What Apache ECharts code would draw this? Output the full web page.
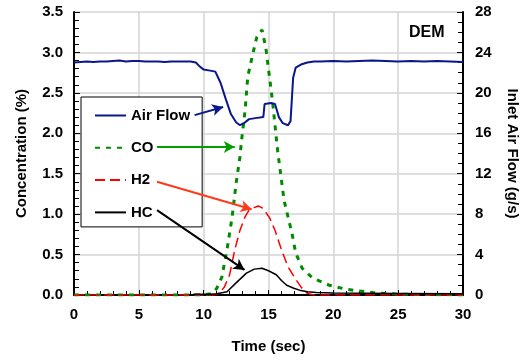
<!DOCTYPE html>
<html>
<head>
<meta charset="utf-8">
<script src="https://cdn.jsdelivr.net/npm/echarts@6/dist/echarts.min.js"></script>
<style>
  html, body { margin: 0; padding: 0; background: #fff; }
  #chart { width: 531px; height: 360px; }
</style>
</head>
<body>
<div id="chart"></div>
<script>
// time (sec) and values
const airTime = [0, 0.5, 1, 1.5, 2, 2.5, 3, 3.5, 4, 4.5, 5, 5.5, 6, 6.5, 7, 7.5, 8, 8.5, 9, 9.4, 9.7, 10.0, 10.5, 10.9, 11.3, 11.7, 12.1, 12.5, 12.8, 13.1, 13.5, 14.0, 14.6, 14.7, 15.2, 15.5, 15.8, 16.1, 16.5, 16.7, 16.9, 17.1, 17.5, 18, 18.5, 19, 20, 21, 22, 23, 24, 25, 26, 27, 28, 29, 30]
const airFlow = [23.0, 23.05, 23.1, 23.05, 23.1, 23.1, 23.15, 23.2, 23.1, 23.15, 23.15, 23.1, 23.1, 23.1, 23.05, 23.1, 23.1, 23.1, 23.1, 23.0, 22.6, 22.3, 22.2, 22.1, 21.0, 19.4, 17.9, 17.1, 16.8, 17.0, 17.4, 17.5, 17.6, 18.9, 19.0, 18.9, 17.6, 17.0, 16.8, 17.2, 21.5, 22.5, 22.8, 23.0, 23.1, 23.1, 23.15, 23.1, 23.15, 23.2, 23.15, 23.1, 23.15, 23.1, 23.15, 23.1, 23.05]

const coTime = [0, 10, 10.7, 11.0, 11.4, 11.8, 12.2, 12.5, 12.8, 12.9, 13.2, 13.4, 13.8, 14.1, 14.5, 14.8, 15.3, 15.7, 16.2, 16.8, 17.1, 17.6, 18.4, 19.7, 21, 23, 25, 30]
const coConc = [0, 0, 0.02, 0.08, 0.22, 0.56, 0.97, 1.38, 1.71, 1.88, 2.29, 2.70, 2.99, 3.19, 3.28, 3.05, 2.41, 1.79, 1.17, 0.77, 0.52, 0.33, 0.21, 0.12, 0.07, 0.03, 0.01, 0]

const h2Time = [0, 10.8, 11.2, 11.6, 12.0, 12.4, 12.8, 13.2, 13.5, 13.9, 14.2, 14.5, 14.8, 15.1, 15.5, 16.0, 16.5, 17.0, 17.5, 18, 18.5, 30]
const h2Conc = [0, 0, 0.02, 0.10, 0.25, 0.56, 0.80, 0.97, 1.05, 1.08, 1.10, 1.08, 1.02, 0.95, 0.80, 0.56, 0.35, 0.22, 0.10, 0.02, 0, 0]

const hcTime = [9.2, 10.5, 11.0, 11.5, 11.8, 12.5, 13.3, 13.9, 14.5, 15.0, 15.6, 16.0, 16.4, 17.0, 17.4, 18.0, 18.7, 20, 25, 30]
const hcConc = [0.01, 0.01, 0.015, 0.03, 0.04, 0.15, 0.27, 0.32, 0.33, 0.30, 0.25, 0.18, 0.12, 0.08, 0.06, 0.04, 0.03, 0.025, 0.02, 0.015]

const zip = (xs, ys) => xs.map((x, i) => [x, ys[i]])

const chart = echarts.init(document.getElementById('chart'))

const labelFont = { color: '#000', fontFamily: 'Arial', fontWeight: 'bold', fontSize: 15 }
const nameFont = { color: '#000', fontFamily: 'Arial', fontWeight: 'bold', fontSize: 15 }

// arrow from legend text to curve
const arrow = (from, to, color) => ({
  silent: true,
  symbol: ['none', 'arrow'],
  symbolSize: [9, 11],
  label: { show: false },
  lineStyle: { color: color, width: 2, type: 'solid' },
  data: [[{ coord: from }, { coord: to }]],
  animation: false,
})

chart.setOption({
  animation: false,
  grid: { left: 74, right: 68, top: 12, bottom: 65 },
  legend: {
    orient: 'vertical',
    left: 81,
    top: 97,
    z: 1,
    padding: [11, 12, 7, 13],
    itemGap: 17.3,
    itemWidth: 31,
    itemHeight: 14,
    itemStyle: { opacity: 0 },
    backgroundColor: '#fff',
    borderColor: '#000',
    borderWidth: 1,
    borderRadius: 0,
    textStyle: labelFont,
    data: ['Air Flow', 'CO', 'H2', 'HC'],
  },
  graphic: [
    { type: 'text', left: 409, top: 25, style: { text: 'DEM', font: 'bold 16px Arial', fill: '#000' } },
  ],
  xAxis: {
    type: 'value',
    min: 0, max: 30, interval: 5,
    name: 'Time (sec)', nameLocation: 'middle', nameGap: 44,
    nameTextStyle: nameFont,
    axisLine: { lineStyle: { color: '#000', width: 2 } },
    axisTick: { inside: true, length: 5, lineStyle: { color: '#000' } },
    minorTick: { show: true, splitNumber: 5, length: 4, lineStyle: { color: '#000' } },
    axisLabel: { ...labelFont, margin: 12 },
    splitLine: { show: true, lineStyle: { color: '#d4d4d4', width: 1.5 } },
  },
  yAxis: [
    {
      type: 'value',
      min: 0, max: 3.5, interval: 0.5,
      name: 'Concentration (%)', nameLocation: 'middle', nameGap: 45,
      nameTextStyle: nameFont,
      axisLine: { show: true, lineStyle: { color: '#000', width: 2 } },
      axisTick: { show: true, inside: true, length: 6, lineStyle: { color: '#000' } },
      minorTick: { show: true, splitNumber: 5, length: 5, lineStyle: { color: '#000' } },
      axisLabel: { ...labelFont, margin: 11, formatter: v => v.toFixed(1) },
      splitLine: { show: true, lineStyle: { color: '#d4d4d4', width: 1.5 } },
    },
    {
      type: 'value',
      min: 0, max: 28, interval: 4,
      name: 'Inlet Air Flow (g/s)', nameLocation: 'middle', nameGap: 42, nameRotate: -90,
      nameTextStyle: nameFont,
      axisLine: { show: true, lineStyle: { color: '#000', width: 2 } },
      axisTick: { show: true, inside: true, length: 6, lineStyle: { color: '#000' } },
      minorTick: { show: true, splitNumber: 4, length: 5, lineStyle: { color: '#000' } },
      axisLabel: { ...labelFont, margin: 12 },
      splitLine: { show: false },
    },
  ],
  series: [
    {
      name: 'Air Flow', type: 'line', yAxisIndex: 1, symbol: 'none', z: 3,
      data: zip(airTime, airFlow),
      lineStyle: { color: '#0a168c', width: 2 },
      itemStyle: { color: '#0a168c' },
      markLine: arrow([9.3, 17.8], [11.5, 18.6], '#0a168c'),
    },
    {
      name: 'CO', type: 'line', symbol: 'none', z: 2,
      data: zip(coTime, coConc),
      lineStyle: { color: '#008a00', width: 3, type: [5, 6] },
      itemStyle: { color: '#008a00' },
      markLine: arrow([6.4, 1.83], [12.4, 1.83], '#00a000'),
    },
    {
      name: 'H2', type: 'line', symbol: 'none', z: 2,
      data: zip(h2Time, h2Conc),
      lineStyle: { color: '#ff0000', width: 1.5, type: [10, 5] },
      itemStyle: { color: '#ff0000' },
      markLine: arrow([6.4, 1.40], [13.7, 1.06], '#ff3a1a'),
    },
    {
      name: 'HC', type: 'line', symbol: 'none', z: 2,
      data: zip(hcTime, hcConc),
      lineStyle: { color: '#000', width: 1.5 },
      itemStyle: { color: '#000' },
      markLine: arrow([6.4, 1.05], [13.15, 0.31], '#000'),
    },
  ],
})

window.addEventListener('resize', () => chart.resize())
</script>
</body>
</html>
